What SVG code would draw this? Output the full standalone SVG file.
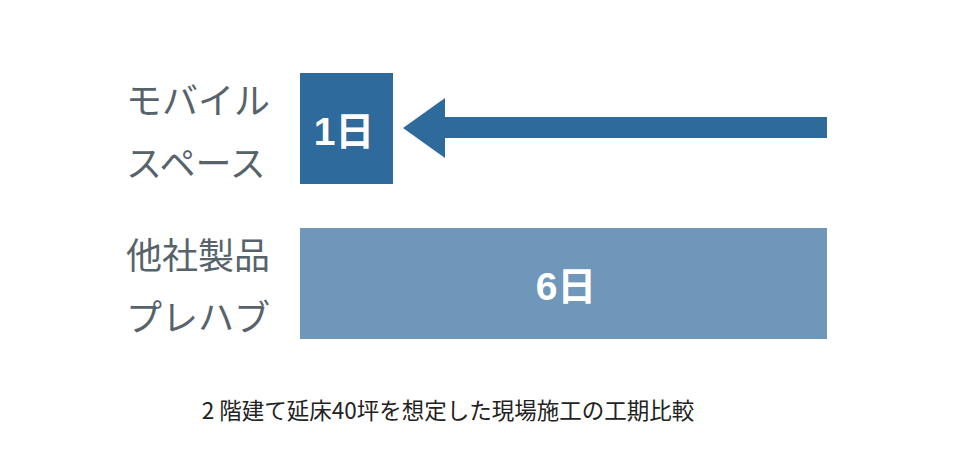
<svg xmlns="http://www.w3.org/2000/svg" width="960" height="454" viewBox="0 0 960 454">
<style>
.lbl{font-family:"Noto Sans CJK JP","Noto Sans",sans-serif;font-size:36px;fill:#56636b;dominant-baseline:central}
.val{font-family:"Liberation Sans","Noto Sans CJK JP",sans-serif;font-weight:bold;font-size:39px;fill:#ffffff;text-anchor:middle;dominant-baseline:central}
.cap{font-family:"Noto Sans CJK JP",sans-serif;font-size:22.5px;fill:#222222;text-anchor:middle;dominant-baseline:central}
</style>
<rect width="960" height="454" fill="#ffffff"/>
<g id="label-mobile">
<text class="lbl" x="126" y="98">モバイル</text>
<text class="lbl" x="126" y="161">スペース</text>
</g>
<g id="label-other">
<text class="lbl" x="126" y="253">他社製品</text>
<text class="lbl" x="126" y="315">プレハブ</text>
</g>
<g id="node-1day">
<rect x="300" y="73" width="93" height="111" fill="#2e6a9b"/>
<text class="val" x="344" y="131">1日</text>
</g>
<g id="node-6day">
<rect x="300" y="228" width="527" height="111" fill="#6f97ba"/>
<text class="val" x="566" y="286">6日</text>
</g>
<g id="connectors">
<polygon points="403,128 445,98 445,117 827,117 827,138 445,138 445,158" fill="#2e6a9b"/>
</g>
<text class="cap" x="448" y="409">2 階建て延床40坪を想定した現場施工の工期比較</text>
</svg>
